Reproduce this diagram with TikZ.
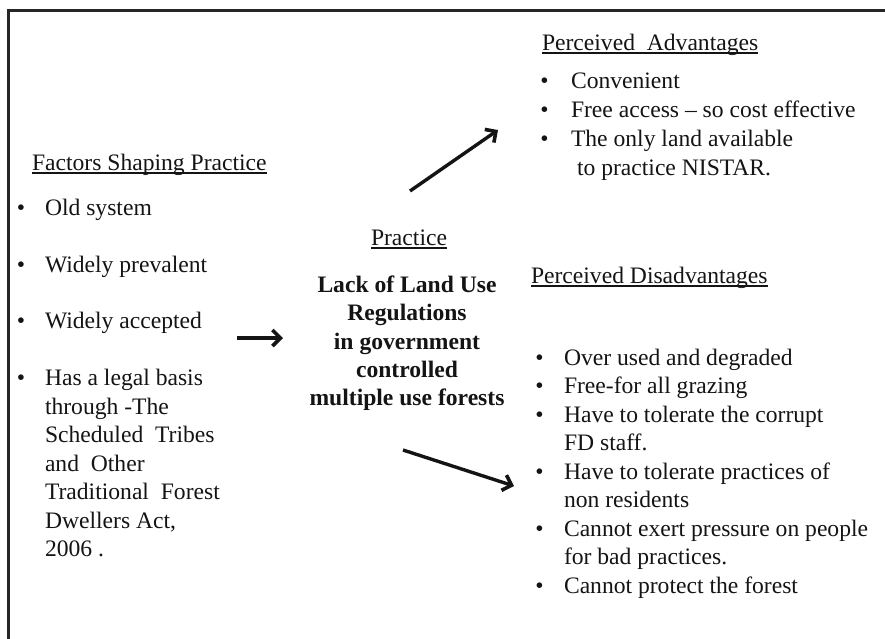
\documentclass[tikz,border=0pt]{standalone}
\usepackage{fontspec}
\setmainfont{Liberation Serif}
\usetikzlibrary{arrows.meta}
\newcommand\myul[1]{\setbox0\hbox{#1}\rlap{\rule[-4.2pt]{\wd0}{1.8pt}}\box0}
\tikzset{
  txt/.style={inner sep=0pt, outer sep=0pt, text=black!92, font=\fontsize{23.6}{28}\selectfont, anchor=base west},
  bul/.style={inner sep=0pt, outer sep=0pt, text=black!92, font=\fontsize{23.6}{28}\selectfont, anchor=base},
  ctr/.style={inner sep=0pt, outer sep=0pt, text=black!92, font=\fontsize{23.6}{28}\selectfont\bfseries, anchor=base},
  arr/.style={line width=3.4pt, black!92, -{Straight Barb[length=8pt,width=16pt,line width=3.6pt]}},
  frame/.style={line width=3pt, black!85}
}
\begin{document}
\begin{tikzpicture}[x=1pt,y=-1pt]
\useasboundingbox (0,0) rectangle (885,638);
% frame
\coordinate (fbl) at (8.5,640);
\coordinate (ftl) at (8.5,10.5);
\coordinate (ftr) at (887,10.5);
\draw[frame] (fbl) -- (ftl) -- (ftr);

% Left column
\node[txt] (lh) at (32,170) {\myul{Factors Shaping Practice}};
\node[bul] (lb1) at (21,215) {•};
\node[txt] (l1) at (45,215) {Old system};
\node[bul] (lb2) at (21,272) {•};
\node[txt] (l2) at (45,272) {Widely prevalent};
\node[bul] (lb3) at (21,328) {•};
\node[txt] (l3) at (45,328) {Widely accepted};
\node[bul] (lb4) at (21,385) {•};
\node[txt] (l4a) at (45,385) {Has a legal basis};
\node[txt] (l4b) at (45,414) {through -The};
\node[txt] (l4c) at (45,442.5) {Scheduled\ \ Tribes};
\node[txt] (l4d) at (45,471) {and\ \ Other};
\node[txt] (l4e) at (45,499.5) {Traditional\ \ Forest};
\node[txt] (l4f) at (45,528) {Dwellers Act,};
\node[txt] (l4g) at (45,556.5) {2006 .};

% Center
\node[bul] (ph) at (409,245) {\myul{Practice}};
\node[ctr] (p1) at (407,292) {Lack of Land Use};
\node[ctr] (p2) at (407,320.5) {Regulations};
\node[ctr] (p3) at (407,349) {in government};
\node[ctr] (p4) at (407,377) {controlled};
\node[ctr] (p5) at (407,405) {multiple use forests};

% Advantages
\node[txt] (ah) at (542,50) {\myul{Perceived\ \ Advantages}};
\node[bul] (ab1) at (544.5,88.5) {•};
\node[txt] (a1) at (571,88.5) {Convenient};
\node[bul] (ab2) at (544.5,117.5) {•};
\node[txt] (a2) at (571,117.5) {Free access -- so cost effective};
\node[bul] (ab3) at (544.5,146.5) {•};
\node[txt] (a3a) at (571,146.5) {The only land available};
\node[txt] (a3b) at (577,175.5) {to practice NISTAR.};

% Disadvantages
\node[txt] (dh) at (531,283) {\myul{Perceived Disadvantages}};
\node[bul] (db1) at (539.5,365) {•};
\node[txt] (d1) at (564,365) {Over used and degraded};
\node[bul] (db2) at (539.5,393.5) {•};
\node[txt] (d2) at (564,393.5) {Free-for all grazing};
\node[bul] (db3) at (539.5,422) {•};
\node[txt] (d3a) at (564,422) {Have to tolerate the corrupt};
\node[txt] (d3b) at (564,450.5) {FD staff.};
\node[bul] (db4) at (539.5,479) {•};
\node[txt] (d4a) at (564,479) {Have to tolerate practices of};
\node[txt] (d4b) at (564,507.5) {non residents};
\node[bul] (db5) at (539.5,536) {•};
\node[txt] (d5a) at (564,536) {Cannot exert pressure on people};
\node[txt] (d5b) at (564,564.5) {for bad practices.};
\node[bul] (db6) at (539.5,593) {•};
\node[txt] (d6) at (564,593) {Cannot protect the forest};

% Arrows
\coordinate (r1) at (237,338);
\coordinate (r2) at (283,338);
\draw[arr] (r1) -- (r2);
\coordinate (u1) at (410,191);
\coordinate (u2) at (498,130);
\draw[arr] (u1) -- (u2);
\coordinate (w1) at (403,450);
\coordinate (w2) at (514,486);
\draw[arr] (w1) -- (w2);
\end{tikzpicture}
\end{document}
